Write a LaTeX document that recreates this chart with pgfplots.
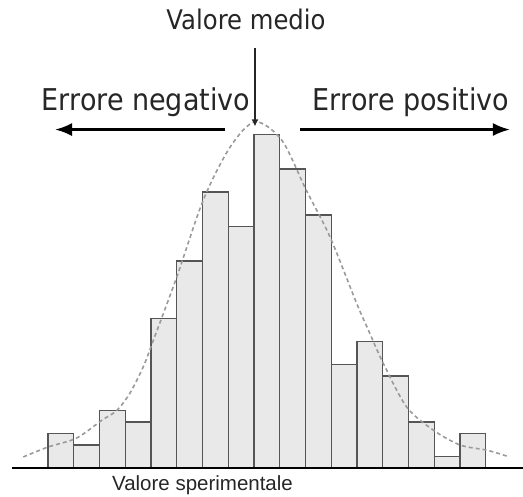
\documentclass[border=0pt]{standalone}
\usepackage{fontspec}
\setmainfont{DejaVu Sans}[FakeStretch=0.9]
\newfontfamily\arialfont{Liberation Sans}
\usepackage{pgfplots}
\pgfplotsset{compat=1.18}
\usetikzlibrary{arrows.meta}
\definecolor{barfill}{HTML}{E9E9E9}
\definecolor{baredge}{HTML}{555555}
\definecolor{curvecol}{HTML}{9A9A9A}
\definecolor{txt}{HTML}{262626}
\begin{document}
\begin{tikzpicture}
\begin{axis}[
  at={(0,0)}, anchor=south west,
  width=523pt, height=497pt, scale only axis,
  xmin=-1.364, xmax=18.947, ymin=-2.522, ymax=40.696,
  hide axis, clip=false,
  ybar, bar width=1,
]
% histogram (counts)
\addplot[fill=barfill, draw=baredge, line width=1.4pt] coordinates {
(1,3) (2,2) (3,5) (4,4) (5,13) (6,18) (7,24) (8,21) (9,29)
(10,26) (11,22) (12,9) (13,11) (14,8) (15,4) (16,1) (17,3)};
% dashed bell curve
\addplot[sharp plot, smooth, dashed, dash pattern=on 4pt off 3pt, draw=curvecol, line width=1.6pt, mark=none] coordinates {
(-0.46,0.96) (0.51,1.83) (1.61,2.6) (2.59,4.15) (3.17,5.0) (3.68,6.5) (4.20,8.8)
(4.59,11.1) (5.5,16.6) (6.53,23.3) (7.57,27.9) (8.54,30.1) (9.58,28.5) (10.52,24.2)
(11.45,20.1) (12.49,14.3) (12.94,12.0) (13.52,9.1) (14.43,5.3) (15.46,3.3) (16.5,2.0)
(17.54,1.55) (18.31,1.04)};
% baseline
\draw[black, line width=2.4pt] (axis cs:-0.898,0) -- (axis cs:18.947,0);
% arrows
\draw[line width=2pt, color=txt, -{Latex[length=7pt,width=7pt]}] (axis cs:8.539,36.5) -- (axis cs:8.539,29.7);
\draw[line width=2.4pt, color=black, -{Latex[length=17pt,width=13pt]}] (axis cs:7.374,29.43) -- (axis cs:0.772,29.43);
\draw[line width=2.4pt, color=black, -{Latex[length=17pt,width=13pt]}] (axis cs:10.29,29.43) -- (axis cs:18.44,29.43);
% texts
\node[anchor=base, text=txt, font=\fontsize{27}{32}\selectfont, inner sep=0pt] at (axis cs:8.19,38.09) {Valore medio};
\node[anchor=base, text=txt, font=\fontsize{30}{36}\selectfont, inner sep=0pt] at (axis cs:4.306,31.13) {Errore negativo};
\node[anchor=base, text=txt, font=\fontsize{30}{36}\selectfont, inner sep=0pt] at (axis cs:14.597,31.13) {Errore positivo};
\node[anchor=base, text=txt, font=\arialfont\fontsize{20.5}{24}\selectfont, inner sep=0pt] at (axis cs:6.5,-1.95) {Valore sperimentale};
\end{axis}
\pgfresetboundingbox
\path (0,0) rectangle (523pt,497pt);
\end{tikzpicture}
\end{document}
